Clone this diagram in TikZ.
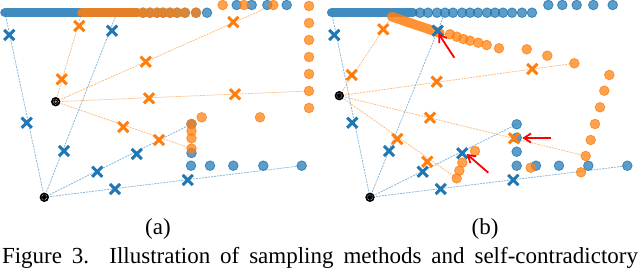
\documentclass[tikz,border=0pt]{standalone}
\usepackage{fontspec}
\setmainfont{Liberation Serif}
\usetikzlibrary{arrows.meta,shapes.misc}
\definecolor{tabblue}{RGB}{31,119,180}
\definecolor{taborange}{RGB}{255,127,14}
\tikzset{
  bdot/.style={circle,inner sep=0pt,minimum size=9.6pt,line width=0.8pt,draw=tabblue,fill=tabblue,fill opacity=0.72,draw opacity=0.8},
  odot/.style={circle,inner sep=0pt,minimum size=9.6pt,line width=0.8pt,draw=taborange,fill=taborange,fill opacity=0.72,draw opacity=0.8},
  bx/.style={cross out,draw=tabblue,line width=3pt,inner sep=0pt,minimum size=7.2pt},
  ox/.style={cross out,draw=taborange,line width=3pt,inner sep=0pt,minimum size=7.2pt},
  bray/.style={draw=tabblue,draw opacity=0.55,line width=0.75pt,dash pattern=on 2pt off 1pt},
  oray/.style={draw=taborange,draw opacity=0.55,line width=0.75pt,dash pattern=on 2pt off 1pt},
  bbar/.style={draw=tabblue,line width=9.6pt,line cap=round,draw opacity=0.85},
  obar/.style={draw=taborange,line width=9.6pt,line cap=round,draw opacity=0.85},
  origin/.style={circle,fill=black,inner sep=0pt,minimum size=9.4pt},
  hint/.style={color=red,line width=1.8pt,-{Straight Barb[length=7pt,width=9pt]}},
  lbl/.style={font=\fontsize{23}{27}\selectfont,inner sep=0pt}
}
\begin{document}
\begin{tikzpicture}[x=1pt,y=-1pt]
\useasboundingbox (0,0) rectangle (640,270);
% panel (a)
\coordinate (ab) at (44.3,197.3);
\coordinate (ao) at (55.7,101.7);
\coordinate (ab1) at (5,12.7); \coordinate (ab2) at (117,12.7); \coordinate (ab3) at (191.5,124); \coordinate (ab4) at (301.7,165.7);
\coordinate (ao1) at (81.7,12.7); \coordinate (ao2) at (273.3,5); \coordinate (ao3) at (309,91); \coordinate (ao4) at (191.5,148.5);
\foreach \e in {ab1,ab2,ab3,ab4} \draw[bray] (ab)--(\e);
\foreach \e in {ao1,ao2,ao3,ao4} \draw[oray] (ao)--(\e);
\draw[bbar] (5,12.7)--(137,12.7);
\foreach \x in {143,150,157,163,170,177,185,196,207} \node[bdot] at (\x,12.7) {};
\draw[obar] (82,12.7)--(137,12.7);
\foreach \x in {143,150,157,163,170,177,185,196} \node[odot] at (\x,12.7) {};
\foreach \x in {236.7,251.7,267.3,286.7} \node[bdot] at (\x,5) {};
\foreach \x in {222.7,244,273.3} \node[odot] at (\x,5) {};
\foreach \y in {6,23,40,57,74,91,108} \node[odot] at (309,\y) {};
\foreach \x/\y in {191.5/124,191.5/153,191/165.7,210/165.7,233.3/165.7,263.3/165.7,301.7/165.7} \node[bdot] at (\x,\y) {};
\foreach \x/\y in {201.7/117.3,260/117.3,191.5/124,191.5/131,191.5/138.3,191.5/148.5} \node[odot] at (\x,\y) {};
\foreach \x/\y in {9.3/35,26.7/122.7,112/30.7,64/151,97.3/171.7,136.7/154,115/189,187.7/180} \node[bx] at (\x,\y) {};
\foreach \x/\y in {61.7/79.3,79.3/26,145.7/61.7,233.3/22,149/98.3,235/94.3,123.3/127,159/140} \node[ox] at (\x,\y) {};
\node[origin] (abm) at (ab) {}; \draw[white,line width=0.5pt,densely dotted] (abm) circle (2.7pt);
\node[origin] (aom) at (ao) {}; \draw[white,line width=0.5pt,densely dotted] (aom) circle (2.7pt); \fill[taborange] (aom) circle (1.3pt);
% panel (b)
\coordinate (bb) at (370,197.3);
\coordinate (bo) at (339.3,95.7);
\coordinate (bb1) at (331.7,12.7); \coordinate (bb2) at (445,12.7); \coordinate (bb3) at (516.7,124.3); \coordinate (bb4) at (627.3,165.7);
\coordinate (bo1) at (391.7,16.7); \coordinate (bo2) at (574.3,63.3); \coordinate (bo3) at (585.7,156); \coordinate (bo4) at (456.7,178.3);
\foreach \e in {bb1,bb2,bb3,bb4} \draw[bray] (bb)--(\e);
\foreach \e in {bo1,bo2,bo3,bo4} \draw[oray] (bo)--(\e);
\draw[bbar] (331.7,12.7)--(413,12.7);
\foreach \x in {420,428,437,445,453,462,470,478,487,495,503,512,522,532} \node[bdot] at (\x,12.7) {};
\foreach \x in {548.3,562.3,576.7,593.3,612.7} \node[bdot] at (\x,5) {};
\foreach \x/\y in {516.7/124.3,516.7/137.7,516.7/151.7,516.7/165.7,536/165.7,559/165.7,588.3/165.7,627.3/165.7} \node[bdot] at (\x,\y) {};
\draw[obar] (391.7,16.7)--(440,33);
\foreach \x/\y in {450/34.3,456.7/36.7,463.3/39,470/40.7,478.3/42.7,486.7/45,499/48.3,526.7/49.3,547.3/55.7,574.3/63.3,609.3/75,604.3/90.7,600/107.3,595/124,590.7/140,585.7/156,581/172.3,475/151,462.3/162.7,459.3/170.7,456.7/178.3,530.7/167.7} \node[odot] at (\x,\y) {};
\foreach \x/\y in {334.3/35,352.3/122.7,437.7/30.7,389/151,422.7/171.7,462.3/153.3,440.7/189,513.3/180} \node[bx] at (\x,\y) {};
\foreach \x/\y in {351.7/75,383.3/29.3,436.7/81.7,532.3/69,430/117.7,514/138.3,397.3/139,427.3/161.7} \node[ox] at (\x,\y) {};
\node[origin] (bbm) at (bb) {}; \draw[white,line width=0.5pt,densely dotted] (bbm) circle (2.7pt);
\node[origin] (bom) at (bo) {}; \draw[white,line width=0.5pt,densely dotted] (bom) circle (2.7pt);
\coordinate (h1s) at (454.3,57.7); \coordinate (h1e) at (438.3,33.3);
\coordinate (h2s) at (551,138); \coordinate (h2e) at (522.3,138);
\coordinate (h3s) at (488.3,172.7); \coordinate (h3e) at (466.7,154);
\draw[hint] (h1s)--(h1e); \draw[hint] (h2s)--(h2e); \draw[hint] (h3s)--(h3e);
% captions
\node[lbl] (capa) at (158,229) {(a)};
\node[lbl] (capb) at (485,229) {(b)};
\node[lbl] (cap) at (320,258) {\makebox[636pt][s]{Figure 3. Illustration of sampling methods and self-contradictory}};
\end{tikzpicture}
\end{document}
